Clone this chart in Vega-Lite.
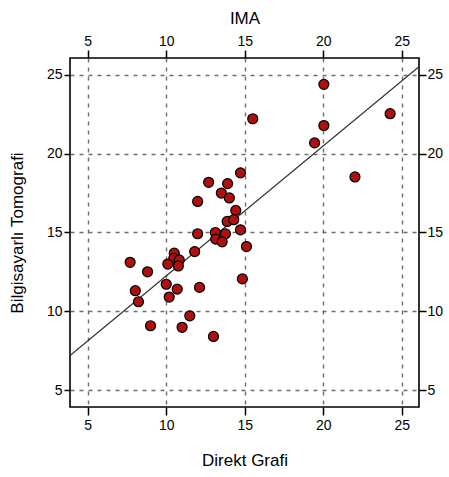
{
  "$schema": "https://vega.github.io/schema/vega-lite/v6.json",
  "width": 349,
  "height": 349,
  "autosize": "none",
  "padding": {"left": 70, "top": 58, "right": 30, "bottom": 70},
  "config": {
    "font": "Liberation Sans",
    "view": {"stroke": "#000000", "strokeWidth": 1.6},
    "axis": {
      "domain": false,
      "tickColor": "#000000",
      "tickWidth": 1.5,
      "labelColor": "#000000",
      "labelFontSize": 14,
      "titleColor": "#000000",
      "titleFontSize": 17,
      "titleFontWeight": "normal",
      "gridColor": "#6e6e6e",
      "gridDash": [4, 5],
      "gridWidth": 1.4
    }
  },
  "data": {
    "values": [
      {"x": 14.73, "y": 18.78}, {"x": 12.70, "y": 18.18}, {"x": 13.91, "y": 18.10},
      {"x": 13.51, "y": 17.50}, {"x": 14.02, "y": 17.19}, {"x": 12.00, "y": 16.97},
      {"x": 14.43, "y": 16.40}, {"x": 13.88, "y": 15.70}, {"x": 14.30, "y": 15.81},
      {"x": 14.73, "y": 15.17}, {"x": 12.00, "y": 14.92}, {"x": 13.13, "y": 15.00},
      {"x": 13.77, "y": 14.92}, {"x": 13.15, "y": 14.58}, {"x": 13.56, "y": 14.41},
      {"x": 15.11, "y": 14.11}, {"x": 11.81, "y": 13.79}, {"x": 10.51, "y": 13.69},
      {"x": 10.48, "y": 13.36}, {"x": 10.10, "y": 13.00}, {"x": 10.83, "y": 13.26},
      {"x": 10.77, "y": 12.88}, {"x": 7.70, "y": 13.11}, {"x": 8.81, "y": 12.51},
      {"x": 14.85, "y": 12.06}, {"x": 8.03, "y": 11.31}, {"x": 8.23, "y": 10.61},
      {"x": 10.00, "y": 11.72}, {"x": 10.70, "y": 11.41}, {"x": 10.19, "y": 10.91},
      {"x": 12.12, "y": 11.52}, {"x": 11.50, "y": 9.72}, {"x": 9.00, "y": 9.09},
      {"x": 11.01, "y": 8.99}, {"x": 13.01, "y": 8.41}, {"x": 15.51, "y": 22.21},
      {"x": 20.04, "y": 24.39}, {"x": 24.26, "y": 22.53}, {"x": 20.04, "y": 21.78},
      {"x": 19.45, "y": 20.68}, {"x": 22.02, "y": 18.52}
    ]
  },
  "layer": [
    {
      "transform": [{"regression": "y", "on": "x", "extent": [3.87, 26.1]}],
      "mark": {"type": "line", "color": "#333333", "strokeWidth": 1.4, "clip": true},
      "encoding": {
        "x": {"field": "x", "type": "quantitative",
              "scale": {"domain": [3.87, 26.1], "nice": false, "zero": false},
              "axis": {"orient": "top", "title": "IMA", "values": [5, 10, 15, 20, 25], "grid": false, "tickSize": 8, "labelPadding": 2, "titlePadding": 7}},
        "y": {"field": "y", "type": "quantitative",
              "scale": {"domain": [3.94, 26.06], "nice": false, "zero": false},
              "axis": {"orient": "right", "title": null, "values": [5, 10, 15, 20, 25], "grid": false, "tickSize": 7, "labelPadding": 1}}
      }
    },
    {
      "mark": {"type": "circle", "size": 100, "fill": "#AE0F0F", "opacity": 1, "stroke": "#000000", "strokeWidth": 1.2},
      "encoding": {
        "x": {"field": "x", "type": "quantitative",
              "axis": {"orient": "bottom", "title": "Direkt Grafi", "values": [5, 10, 15, 20, 25], "grid": true, "tickSize": 8, "labelPadding": 3, "titlePadding": 20}},
        "y": {"field": "y", "type": "quantitative",
              "axis": {"orient": "left", "title": "Bilgisayarlı Tomografi", "values": [5, 10, 15, 20, 25], "grid": true, "tickSize": 6, "labelPadding": 2, "titlePadding": 20}}
      }
    }
  ],
  "resolve": {"axis": {"x": "independent", "y": "independent"}}
}
